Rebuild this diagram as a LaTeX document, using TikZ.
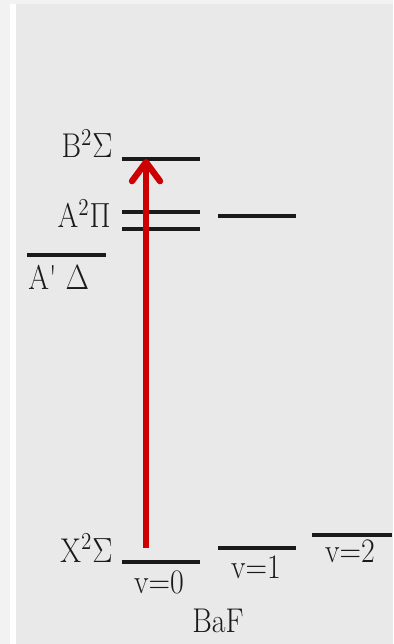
\documentclass[tikz,border=0pt]{standalone}
\usepackage{graphicx}
\usetikzlibrary{arrows.meta}
\definecolor{pagegray}{HTML}{F2F2F2}
\definecolor{panelgray}{HTML}{E9E9E9}
\definecolor{arrowred}{HTML}{CC0000}
\definecolor{levelgray}{HTML}{1A1A1A}
\newcommand{\tallbox}[1]{\scalebox{1}[1.15]{#1}}

\begin{document}
\begin{tikzpicture}[x=0.02cm,y=-0.02cm,
  level/.style={line width=2.1pt,levelgray},
  lbl/.style={font=\fontsize{17}{20}\selectfont,inner sep=0pt,text=levelgray}]
% background
\fill[pagegray] (0,0) rectangle (393,644);
\fill[white] (10,4) rectangle (16,644);
\fill[panelgray] (16,4) rectangle (393,644);
% upper states
\draw[level] (122,159) -- (200,159);
\draw[level] (122,212) -- (200,212);
\draw[level] (122,229) -- (200,229);
\draw[level] (218,216) -- (296,216);
\draw[level] (27,255) -- (106,255);
\node[lbl,anchor=base east] (bsig) at (113,158) {\tallbox{B$^2\Sigma$}};
\node[lbl,anchor=base east] (api) at (111,228) {\tallbox{A$^2\Pi$}};
\node[lbl,anchor=base west] (adel) at (28,290) {\tallbox{A\textquotesingle{} $\Delta$}};
% ground state, v = 0,1,2
\draw[level] (122,562) -- (200,562);
\draw[level] (218,548) -- (296,548);
\draw[level] (312,535) -- (392,535);
\node[lbl,anchor=base east] (xsig) at (113,562) {\tallbox{X$^2\Sigma$}};
\node[lbl,anchor=base] (v0) at (159,593) {\tallbox{v=0}};
\node[lbl,anchor=base] (v1) at (256,578) {\tallbox{v=1}};
\node[lbl,anchor=base] (v2) at (350,562) {\tallbox{v=2}};
\node[lbl,anchor=base] (baf) at (218,632) {\tallbox{BaF}};
% excitation
\coordinate (xstart) at (146,548);
\coordinate (btip) at (146,159);
\draw[arrowred,line width=3.6pt,-{Straight Barb[length=3.8mm,width=5.6mm,round]}] (xstart) -- (btip);
\end{tikzpicture}
\end{document}
